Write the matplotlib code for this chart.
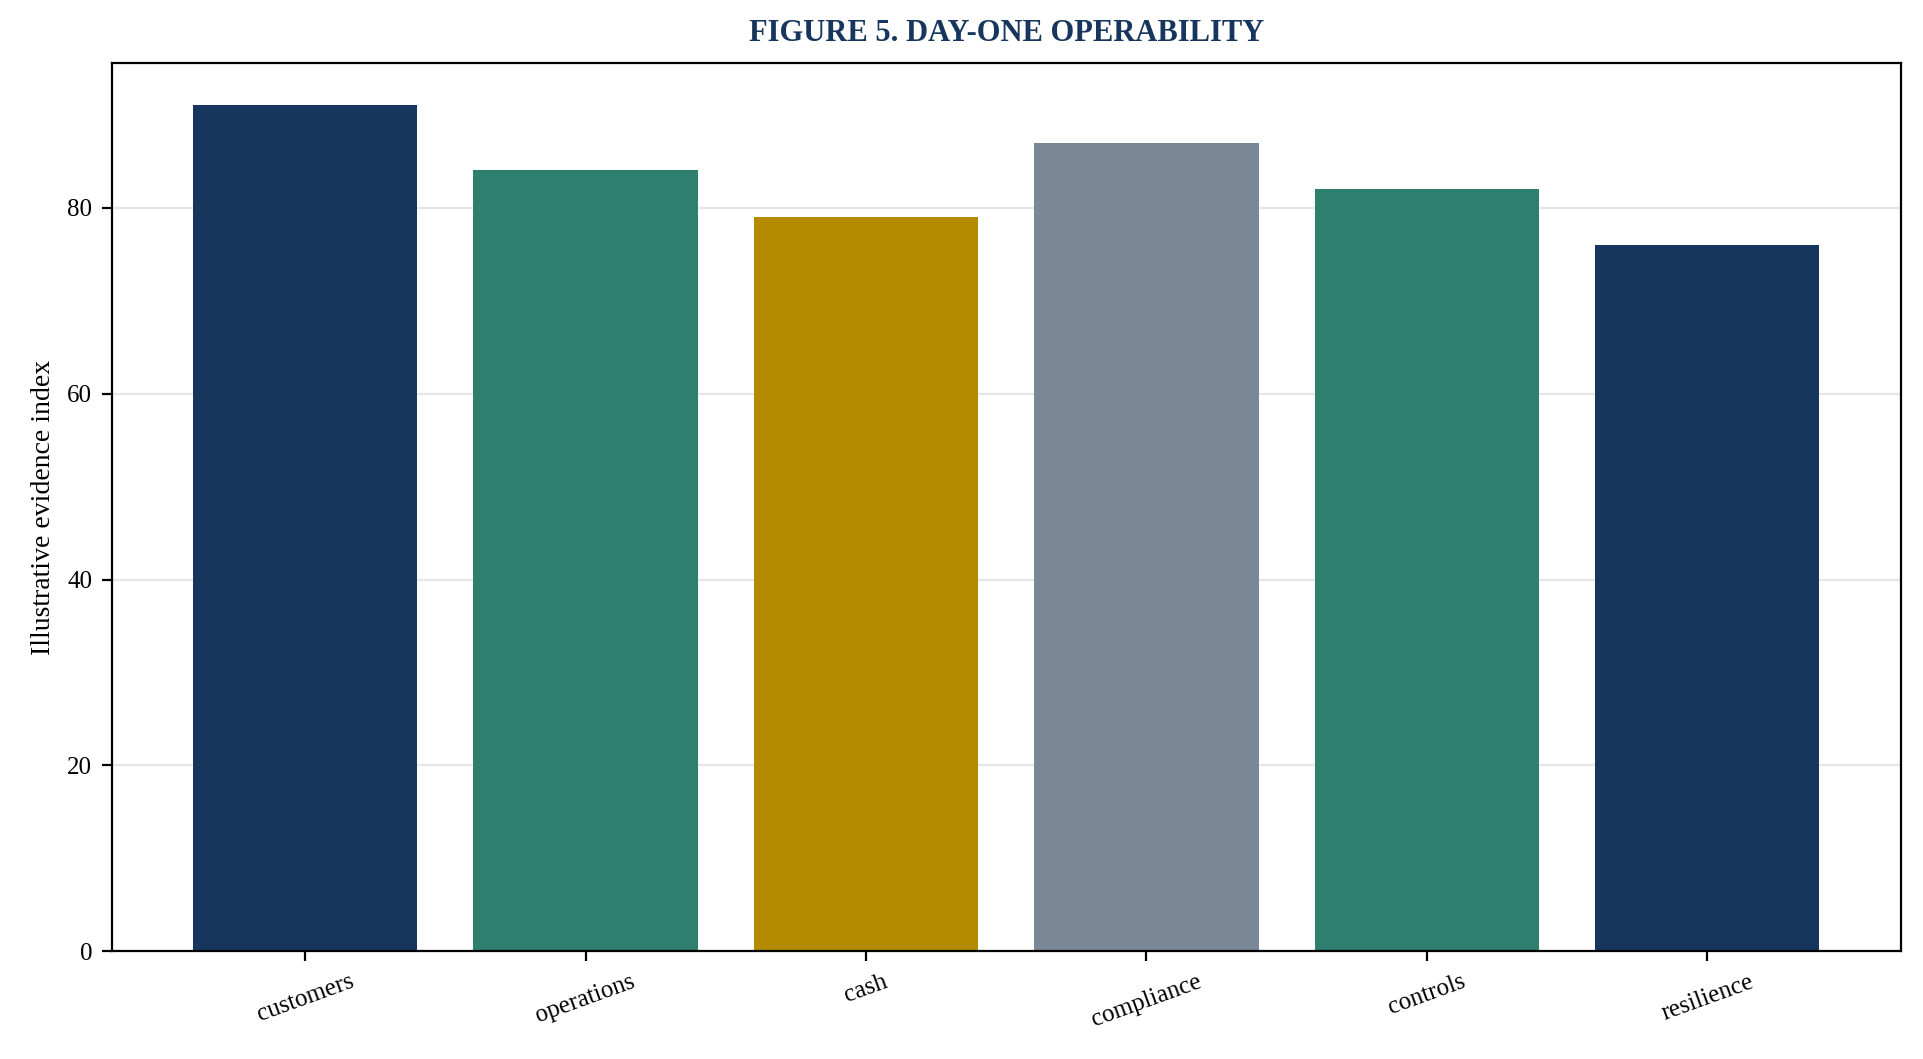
import matplotlib
matplotlib.use("Agg")
import matplotlib.pyplot as plt

categories = ["customers", "operations", "cash", "compliance", "controls", "resilience"]
values = [91, 84, 79, 87, 82, 76]
colors = ["#17365d", "#2e7f6e", "#b38a00", "#7a8796", "#2e7f6e", "#17365d"]

plt.rcParams['font.family'] = ['Liberation Serif', 'DejaVu Serif']
fig = plt.figure(figsize=(9.62, 5.295), dpi=200)
ax = fig.add_axes([91/1568, 1-769/856, (1549-91)/1568, (769-51)/856])
ax.bar(categories, values, color=colors, width=0.8, zorder=2)
ax.set_ylim(0, 95.55)
ax.set_yticks([0, 20, 40, 60, 80])
ax.grid(axis='y', color='#e6e6e6', linewidth=0.8, zorder=0)
ax.set_ylabel("Illustrative evidence index", fontsize=10)
ax.tick_params(labelsize=9)
plt.setp(ax.get_xticklabels(), rotation=20)
ax.set_title("FIGURE 5. DAY-ONE OPERABILITY", fontsize=11, fontweight='bold', color='#17365d', pad=8)
fig.savefig("out.png", dpi=200)
